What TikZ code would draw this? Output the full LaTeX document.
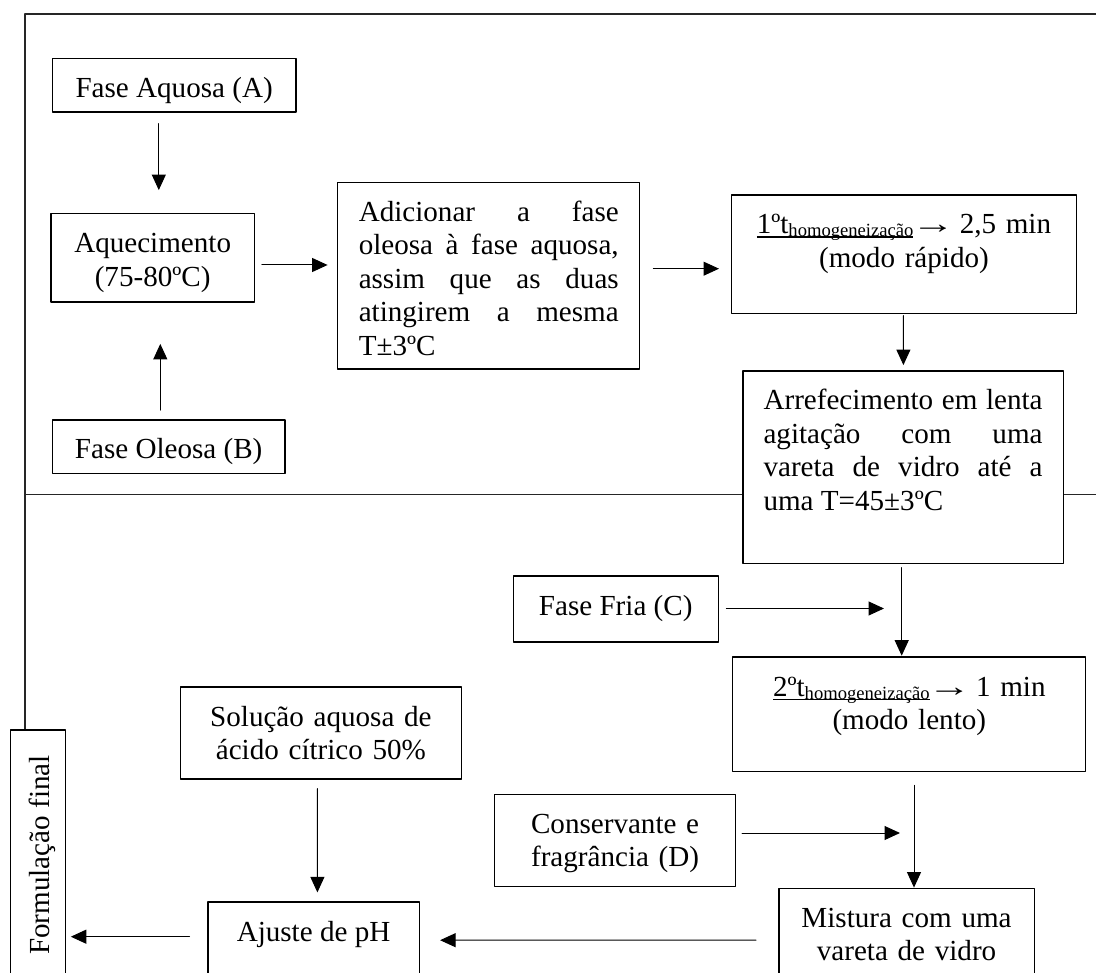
\documentclass[tikz,border=0pt]{standalone}
\usepackage{fontspec}
\setmainfont{Liberation Serif}
\usetikzlibrary{arrows.meta}
\newcommand\sbs[1]{\raisebox{-3pt}{\fontsize{18.6pt}{20pt}\selectfont #1}}
\newcommand\ulined[1]{\setbox0\hbox{#1}\rlap{\rule[-3.6pt]{\wd0}{1.1pt}}\box0}
\newcommand\rarr{\kern-2pt\scalebox{1.5}[1]{→}\kern-5pt}
\tolerance=10000
\hbadness=10000
\begin{document}
\begin{tikzpicture}[x=1pt, y=-1pt, line cap=round, line join=round,
    box/.style={draw, line width=1.2pt, fill=white, inner sep=0pt, align=center,
      text height=39pt, font=\fontsize{29.1pt}{33.5pt}\selectfont},
    arr/.style={line width=1pt, -{Triangle[length=15.5pt, width=14pt]}},
    frame/.style={line width=1.4pt, black!85}]
    \useasboundingbox (0,0) rectangle (1096,973);
    \clip (0,0) rectangle (1096,973);
    \draw[frame] (1100,14) -- (25,14) -- (25,980);
    \draw[frame] (25,494.5) -- (1100,494.5);
    \node[box, minimum width=243.7pt, text depth=14.7pt] (faseA) at (174.15,85.15) {Fase Aquosa (A)};
    \node[box, text width=203.3pt, text depth=49.3pt] (heat) at (152.65,257.85) {Aquecimento\\(75-80ºC)};
    \node[box, minimum width=232.7pt, text depth=14.7pt] (faseB) at (168.65,446.85) {Fase Oleosa (B)};
    \node[box, text width=260pt, align=justify, minimum width=302.1pt, text depth=147.7pt] (add) at (488.75,275.65)
      {Adicionar a fase\linebreak oleosa à fase aquosa,\linebreak assim que as duas\linebreak atingirem a mesma\linebreak T±3ºC};
    \node[box, text width=344.3pt, text depth=79.3pt] (hom1) at (903.95,254.15)
      {\ulined{1ºt\sbs{homogeneização}}\rarr\ 2,5 min\\(modo rápido)};
    \node[box, text width=279pt, align=justify, minimum width=320.1pt, text depth=153.5pt] (cool) at (903.05,467.25)
      {Arrefecimento em lenta\linebreak agitação com uma\linebreak vareta de vidro até a\linebreak uma T=45±3ºC};
    \node[box, minimum width=205pt, text depth=27pt] (faseC) at (615.7,609) {Fase Fria (C)};
    \node[box, text width=353pt, text depth=75.3pt] (hom2) at (909.3,714.15)
      {\ulined{2ºt\sbs{homogeneização}}\rarr\ 1 min\\(modo lento)};
    \node[box, text width=280.6pt, text depth=53pt] (acid) at (320.9,733) {Solução aquosa de\\ácido cítrico 50\%};
    \node[box, text width=241pt, text depth=53.4pt] (faseD) at (615.1,840.5) {Conservante e\\fragrância (D)};
    \node[box, minimum width=211.1pt, text depth=51pt] (ph) at (313.55,947) {Ajuste de pH};
    \node[box, text width=255.3pt, text depth=58.8pt] (mix) at (906.55,937.1) {Mistura com uma\\vareta de vidro};
    \node[box, rotate=90, minimum width=250pt, text depth=15.7pt] (final) at (37.85,855) {Formulação final};
    \coordinate (faseCend) at (884,608.5);
    \coordinate (faseDend) at (900,833);
    \draw[arr] ([xshift=-15.35pt, yshift=-11pt]faseA.south) -- ([xshift=6.15pt, yshift=23pt]heat.north);
    \draw[arr] ([xshift=-8.35pt, yshift=9.3pt]faseB.north) -- ([xshift=7.65pt, yshift=-41.3pt]heat.south);
    \draw[arr] ([xshift=6.9pt, yshift=-7.15pt]heat.east) -- ([xshift=-9.5pt, yshift=10.65pt]add.west);
    \draw[arr] ([xshift=12.9pt, yshift=6.95pt]add.east) -- ([xshift=-12.2pt, yshift=-14.55pt]hom1.west);
    \draw[arr] ([xshift=-0.55pt, yshift=-1.7pt]hom1.south) -- ([xshift=0.35pt, yshift=5.3pt]cool.north);
    \draw[arr] ([xshift=-1.35pt, yshift=-3.5pt]cool.south) -- ([xshift=-7.6pt, yshift=0.7pt]hom2.north);
    \draw[arr] ([xshift=7.6pt, yshift=0.5pt]faseC.east) -- (faseCend);
    \draw[arr] ([xshift=4.7pt, yshift=-13.4pt]hom2.south) -- ([xshift=7.45pt]mix.north);
    \draw[arr] ([xshift=6pt, yshift=7.5pt]faseD.east) -- (faseDend);
    \draw[arr] ([xshift=-22.3pt, yshift=-3.1pt]mix.west) -- ([xshift=20.4pt, yshift=6.8pt]ph.east);
    \draw[arr] ([xshift=-3.5pt, yshift=-9pt]acid.south) -- ([xshift=3.85pt, yshift=9pt]ph.north);
    \draw[arr] ([xshift=-17.9pt, yshift=10.3pt]ph.west) -- ([xshift=5pt, yshift=-81.7pt]final.south);
\end{tikzpicture}
\end{document}
